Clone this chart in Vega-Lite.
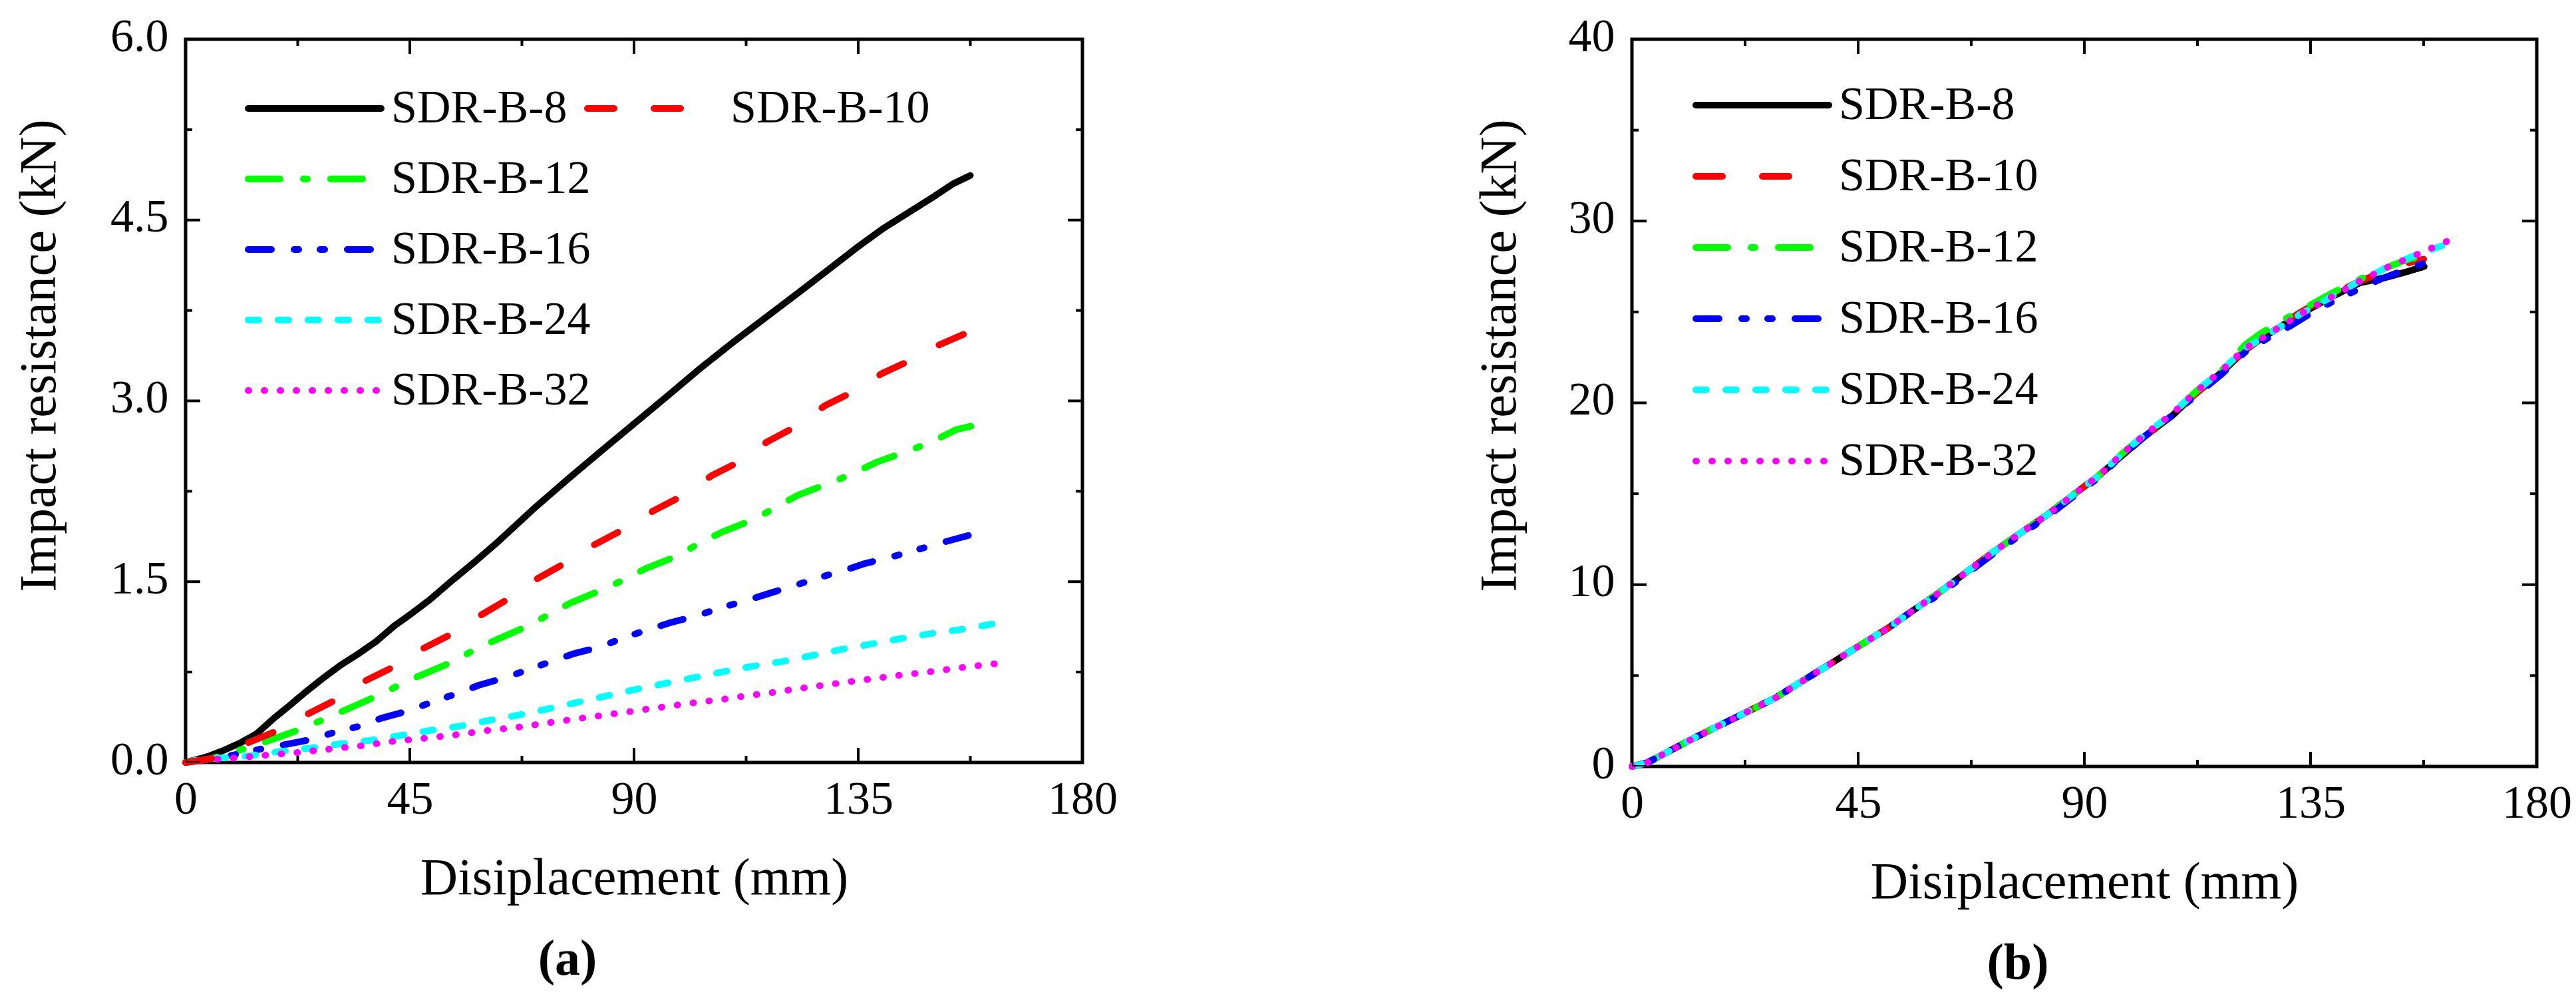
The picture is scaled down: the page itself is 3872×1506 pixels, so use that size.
{
  "$schema": "https://vega.github.io/schema/vega-lite/v6.json",
  "padding": {"left": 17, "top": 17, "right": 10, "bottom": 10},
  "background": "white",
  "config": {
    "font": "Liberation Serif, Times New Roman, serif",
    "view": {"stroke": "black", "strokeWidth": 5},
    "axis": {
      "grid": false, "domain": false, "labelFlush": false,
      "labelFont": "Liberation Serif, Times New Roman, serif", "labelFontSize": 70, "labelColor": "black",
      "titleFont": "Liberation Serif, Times New Roman, serif", "titleFontSize": 78, "titleFontWeight": "normal", "titleColor": "black"
    },
    "legend": {
      "orient": "none", "title": null, "padding": 0,
      "symbolType": "stroke", "symbolSize": 40000, "symbolStrokeWidth": 10, "clipHeight": 70,
      "labelFont": "Liberation Serif, Times New Roman, serif", "labelFontSize": 70, "labelColor": "black",
      "labelOffset": 10, "labelLimit": 1000, "rowPadding": 36
    },
    "tick": {"thickness": 4, "opacity": 1, "color": "black"},
    "title": {"font": "Liberation Serif, Times New Roman, serif", "fontSize": 76, "fontWeight": "bold", "color": "black", "orient": "bottom", "frame": "group", "anchor": "middle", "dx": -100, "offset": 46}
  },
  "datasets": {
    "xt": [
      {"val": 0, "major": true}, {"val": 22.5, "major": false}, {"val": 45, "major": true}, {"val": 67.5, "major": false}, {"val": 90, "major": true},
      {"val": 112.5, "major": false}, {"val": 135, "major": true}, {"val": 157.5, "major": false}, {"val": 180, "major": true}
    ],
    "yta": [
      {"val": 0, "major": true}, {"val": 0.75, "major": false}, {"val": 1.5, "major": true}, {"val": 2.25, "major": false}, {"val": 3, "major": true},
      {"val": 3.75, "major": false}, {"val": 4.5, "major": true}, {"val": 5.25, "major": false}, {"val": 6, "major": true}
    ],
    "ytb": [
      {"val": 0, "major": true}, {"val": 5, "major": false}, {"val": 10, "major": true}, {"val": 15, "major": false}, {"val": 20, "major": true},
      {"val": 25, "major": false}, {"val": 30, "major": true}, {"val": 35, "major": false}, {"val": 40, "major": true}
    ],
    "a": [
      {"series":"SDR-B-8","disp":0,"load":0},{"series":"SDR-B-8","disp":4.5,"load":0.05},{"series":"SDR-B-8","disp":7.6,"load":0.1},{"series":"SDR-B-8","disp":11.1,"load":0.165},{"series":"SDR-B-8","disp":14.3,"load":0.24},{"series":"SDR-B-8","disp":17.8,"load":0.37},{"series":"SDR-B-8","disp":20.5,"load":0.46},{"series":"SDR-B-8","disp":24.1,"load":0.585},{"series":"SDR-B-8","disp":27.6,"load":0.7},{"series":"SDR-B-8","disp":31.2,"load":0.81},{"series":"SDR-B-8","disp":34.8,"load":0.905},{"series":"SDR-B-8","disp":38.3,"load":1.006},{"series":"SDR-B-8","disp":41.9,"load":1.134},{"series":"SDR-B-8","disp":45,"load":1.225},{"series":"SDR-B-8","disp":49,"load":1.35},{"series":"SDR-B-8","disp":53.5,"load":1.51},{"series":"SDR-B-8","disp":57.9,"load":1.66},{"series":"SDR-B-8","disp":62.4,"load":1.82},{"series":"SDR-B-8","disp":70,"load":2.11},{"series":"SDR-B-8","disp":76.7,"load":2.35},{"series":"SDR-B-8","disp":83.3,"load":2.58},{"series":"SDR-B-8","disp":90,"load":2.81},{"series":"SDR-B-8","disp":96.7,"load":3.04},{"series":"SDR-B-8","disp":103.3,"load":3.27},{"series":"SDR-B-8","disp":110,"load":3.49},{"series":"SDR-B-8","disp":116.7,"load":3.7},{"series":"SDR-B-8","disp":123.4,"load":3.91},{"series":"SDR-B-8","disp":130,"load":4.12},{"series":"SDR-B-8","disp":135,"load":4.28},{"series":"SDR-B-8","disp":140,"load":4.43},{"series":"SDR-B-8","disp":145,"load":4.56},{"series":"SDR-B-8","disp":150,"load":4.69},{"series":"SDR-B-8","disp":154,"load":4.8},{"series":"SDR-B-8","disp":157.5,"load":4.87},
      {"series":"SDR-B-10","disp":0,"load":0},{"series":"SDR-B-10","disp":5,"load":0.03},{"series":"SDR-B-10","disp":9,"load":0.09},{"series":"SDR-B-10","disp":12,"load":0.155},{"series":"SDR-B-10","disp":18,"load":0.256},{"series":"SDR-B-10","disp":24.1,"load":0.393},{"series":"SDR-B-10","disp":29.6,"load":0.508},{"series":"SDR-B-10","disp":35.6,"load":0.668},{"series":"SDR-B-10","disp":41.4,"load":0.786},{"series":"SDR-B-10","disp":47.5,"load":0.942},{"series":"SDR-B-10","disp":53,"load":1.057},{"series":"SDR-B-10","disp":59,"load":1.216},{"series":"SDR-B-10","disp":64.5,"load":1.35},{"series":"SDR-B-10","disp":70.4,"load":1.52},{"series":"SDR-B-10","disp":76,"load":1.65},{"series":"SDR-B-10","disp":82.2,"load":1.81},{"series":"SDR-B-10","disp":87.7,"load":1.93},{"series":"SDR-B-10","disp":94,"load":2.09},{"series":"SDR-B-10","disp":99.6,"load":2.21},{"series":"SDR-B-10","disp":105.6,"load":2.38},{"series":"SDR-B-10","disp":110.9,"load":2.49},{"series":"SDR-B-10","disp":116.7,"load":2.66},{"series":"SDR-B-10","disp":122.2,"load":2.78},{"series":"SDR-B-10","disp":128.3,"load":2.96},{"series":"SDR-B-10","disp":133.7,"load":3.07},{"series":"SDR-B-10","disp":139.9,"load":3.23},{"series":"SDR-B-10","disp":145.7,"load":3.34},{"series":"SDR-B-10","disp":151,"load":3.46},{"series":"SDR-B-10","disp":157.7,"load":3.58},
      {"series":"SDR-B-12","disp":0,"load":0},{"series":"SDR-B-12","disp":5,"load":0.03},{"series":"SDR-B-12","disp":10.7,"load":0.1},{"series":"SDR-B-12","disp":15.6,"load":0.165},{"series":"SDR-B-12","disp":23,"load":0.274},{"series":"SDR-B-12","disp":27.2,"load":0.348},{"series":"SDR-B-12","disp":31.2,"load":0.42},{"series":"SDR-B-12","disp":38.3,"load":0.549},{"series":"SDR-B-12","disp":42.3,"load":0.63},{"series":"SDR-B-12","disp":46.6,"load":0.713},{"series":"SDR-B-12","disp":53.5,"load":0.832},{"series":"SDR-B-12","disp":57.5,"load":0.924},{"series":"SDR-B-12","disp":61.7,"load":1.006},{"series":"SDR-B-12","disp":68.6,"load":1.13},{"series":"SDR-B-12","disp":72.6,"load":1.22},{"series":"SDR-B-12","disp":77.1,"load":1.32},{"series":"SDR-B-12","disp":84,"load":1.44},{"series":"SDR-B-12","disp":88.2,"load":1.52},{"series":"SDR-B-12","disp":92.4,"load":1.61},{"series":"SDR-B-12","disp":99.1,"load":1.72},{"series":"SDR-B-12","disp":103.1,"load":1.82},{"series":"SDR-B-12","disp":107.6,"load":1.91},{"series":"SDR-B-12","disp":114.3,"load":2.02},{"series":"SDR-B-12","disp":118.6,"load":2.12},{"series":"SDR-B-12","disp":123,"load":2.22},{"series":"SDR-B-12","disp":130.1,"load":2.33},{"series":"SDR-B-12","disp":134.6,"load":2.41},{"series":"SDR-B-12","disp":138.6,"load":2.49},{"series":"SDR-B-12","disp":146.1,"load":2.6},{"series":"SDR-B-12","disp":150.2,"load":2.67},{"series":"SDR-B-12","disp":154.6,"load":2.76},{"series":"SDR-B-12","disp":157.7,"load":2.79},
      {"series":"SDR-B-16","disp":0,"load":0},{"series":"SDR-B-16","disp":4.9,"load":0.027},{"series":"SDR-B-16","disp":9.8,"load":0.064},{"series":"SDR-B-16","disp":14.9,"load":0.11},{"series":"SDR-B-16","disp":19.6,"load":0.146},{"series":"SDR-B-16","disp":25.4,"load":0.192},{"series":"SDR-B-16","disp":29.6,"load":0.247},{"series":"SDR-B-16","disp":34.8,"load":0.3},{"series":"SDR-B-16","disp":39.2,"load":0.366},{"series":"SDR-B-16","disp":44.8,"load":0.43},{"series":"SDR-B-16","disp":49,"load":0.494},{"series":"SDR-B-16","disp":54.1,"load":0.567},{"series":"SDR-B-16","disp":58.8,"load":0.64},{"series":"SDR-B-16","disp":64.2,"load":0.704},{"series":"SDR-B-16","disp":68.8,"load":0.77},{"series":"SDR-B-16","disp":73.5,"load":0.84},{"series":"SDR-B-16","disp":77.7,"load":0.9},{"series":"SDR-B-16","disp":83.3,"load":0.96},{"series":"SDR-B-16","disp":87.6,"load":1.03},{"series":"SDR-B-16","disp":92.7,"load":1.1},{"series":"SDR-B-16","disp":97.3,"load":1.16},{"series":"SDR-B-16","disp":102.9,"load":1.22},{"series":"SDR-B-16","disp":107.1,"load":1.28},{"series":"SDR-B-16","disp":112.3,"load":1.34},{"series":"SDR-B-16","disp":116.9,"load":1.4},{"series":"SDR-B-16","disp":122.4,"load":1.47},{"series":"SDR-B-16","disp":126.8,"load":1.53},{"series":"SDR-B-16","disp":131.9,"load":1.59},{"series":"SDR-B-16","disp":136.3,"load":1.65},{"series":"SDR-B-16","disp":142.1,"load":1.71},{"series":"SDR-B-16","disp":146.4,"load":1.76},{"series":"SDR-B-16","disp":151.5,"load":1.82},{"series":"SDR-B-16","disp":155.9,"load":1.87},{"series":"SDR-B-16","disp":160.6,"load":1.92},
      {"series":"SDR-B-24","disp":0,"load":0},{"series":"SDR-B-24","disp":1.8,"load":0.018},{"series":"SDR-B-24","disp":7.1,"load":0.037},{"series":"SDR-B-24","disp":12.9,"load":0.055},{"series":"SDR-B-24","disp":18.9,"load":0.091},{"series":"SDR-B-24","disp":25,"load":0.119},{"series":"SDR-B-24","disp":31,"load":0.155},{"series":"SDR-B-24","disp":37,"load":0.183},{"series":"SDR-B-24","disp":43,"load":0.223},{"series":"SDR-B-24","disp":49,"load":0.265},{"series":"SDR-B-24","disp":54.8,"load":0.3},{"series":"SDR-B-24","disp":60.8,"load":0.348},{"series":"SDR-B-24","disp":66.8,"load":0.393},{"series":"SDR-B-24","disp":72.8,"load":0.445},{"series":"SDR-B-24","disp":78.8,"load":0.5},{"series":"SDR-B-24","disp":84.8,"load":0.555},{"series":"SDR-B-24","disp":90.8,"load":0.61},{"series":"SDR-B-24","disp":96.8,"load":0.66},{"series":"SDR-B-24","disp":102.8,"load":0.71},{"series":"SDR-B-24","disp":108.8,"load":0.76},{"series":"SDR-B-24","disp":114,"load":0.8},{"series":"SDR-B-24","disp":120.1,"load":0.84},{"series":"SDR-B-24","disp":126.1,"load":0.89},{"series":"SDR-B-24","disp":131.9,"load":0.94},{"series":"SDR-B-24","disp":137.9,"load":0.985},{"series":"SDR-B-24","disp":143.9,"load":1.03},{"series":"SDR-B-24","disp":149.7,"load":1.07},{"series":"SDR-B-24","disp":156.8,"load":1.11},{"series":"SDR-B-24","disp":163.3,"load":1.16},
      {"series":"SDR-B-32","disp":0,"load":0},{"series":"SDR-B-32","disp":3.1,"load":0.018},{"series":"SDR-B-32","disp":9.6,"load":0.037},{"series":"SDR-B-32","disp":15.8,"load":0.059},{"series":"SDR-B-32","disp":22.3,"load":0.082},{"series":"SDR-B-32","disp":28.7,"load":0.11},{"series":"SDR-B-32","disp":35,"load":0.137},{"series":"SDR-B-32","disp":41.4,"load":0.174},{"series":"SDR-B-32","disp":47.9,"load":0.2},{"series":"SDR-B-32","disp":54.1,"load":0.229},{"series":"SDR-B-32","disp":60.6,"load":0.265},{"series":"SDR-B-32","disp":66.8,"load":0.293},{"series":"SDR-B-32","disp":73,"load":0.33},{"series":"SDR-B-32","disp":80,"load":0.37},{"series":"SDR-B-32","disp":87,"load":0.41},{"series":"SDR-B-32","disp":94,"load":0.45},{"series":"SDR-B-32","disp":101,"load":0.49},{"series":"SDR-B-32","disp":108,"load":0.525},{"series":"SDR-B-32","disp":112,"load":0.55},{"series":"SDR-B-32","disp":117.8,"load":0.58},{"series":"SDR-B-32","disp":124.3,"load":0.62},{"series":"SDR-B-32","disp":130.8,"load":0.656},{"series":"SDR-B-32","disp":137,"load":0.69},{"series":"SDR-B-32","disp":143.5,"load":0.725},{"series":"SDR-B-32","disp":149.9,"load":0.755},{"series":"SDR-B-32","disp":156.2,"load":0.79},{"series":"SDR-B-32","disp":162.6,"load":0.82}
    ],
    "b": [
      {"series":"SDR-B-8","disp":0,"load":0},{"series":"SDR-B-8","disp":3,"load":0.2},{"series":"SDR-B-8","disp":11.2,"load":1.4},{"series":"SDR-B-8","disp":17,"load":2.2},{"series":"SDR-B-8","disp":22.9,"load":3},{"series":"SDR-B-8","disp":28.7,"load":3.8},{"series":"SDR-B-8","disp":34.5,"load":4.8},{"series":"SDR-B-8","disp":39.8,"load":5.7},{"series":"SDR-B-8","disp":45,"load":6.6},{"series":"SDR-B-8","disp":50.9,"load":7.6},{"series":"SDR-B-8","disp":55.5,"load":8.5},{"series":"SDR-B-8","disp":60.8,"load":9.5},{"series":"SDR-B-8","disp":66.6,"load":10.7},{"series":"SDR-B-8","disp":71.9,"load":11.8},{"series":"SDR-B-8","disp":77.1,"load":12.8},{"series":"SDR-B-8","disp":82.4,"load":13.8},{"series":"SDR-B-8","disp":87.6,"load":14.9},{"series":"SDR-B-8","disp":92.9,"load":16},{"series":"SDR-B-8","disp":97.5,"load":17.1},{"series":"SDR-B-8","disp":102.2,"load":18.2},{"series":"SDR-B-8","disp":107.5,"load":19.3},{"series":"SDR-B-8","disp":112.1,"load":20.5},{"series":"SDR-B-8","disp":117.4,"load":21.7},{"series":"SDR-B-8","disp":122,"load":22.9},{"series":"SDR-B-8","disp":125,"load":23.5},{"series":"SDR-B-8","disp":127.9,"load":24},{"series":"SDR-B-8","disp":133.1,"load":24.9},{"series":"SDR-B-8","disp":139,"load":25.8},{"series":"SDR-B-8","disp":144.8,"load":26.6},{"series":"SDR-B-8","disp":150,"load":26.9},{"series":"SDR-B-8","disp":154,"load":27.2},{"series":"SDR-B-8","disp":157.6,"load":27.5},
      {"series":"SDR-B-10","disp":0,"load":0},{"series":"SDR-B-10","disp":3,"load":0.2},{"series":"SDR-B-10","disp":11.2,"load":1.4},{"series":"SDR-B-10","disp":17,"load":2.2},{"series":"SDR-B-10","disp":22.9,"load":3},{"series":"SDR-B-10","disp":28.7,"load":3.8},{"series":"SDR-B-10","disp":34.5,"load":4.8},{"series":"SDR-B-10","disp":39.8,"load":5.7},{"series":"SDR-B-10","disp":45,"load":6.6},{"series":"SDR-B-10","disp":50.9,"load":7.6},{"series":"SDR-B-10","disp":55.5,"load":8.5},{"series":"SDR-B-10","disp":60.8,"load":9.5},{"series":"SDR-B-10","disp":66.6,"load":10.7},{"series":"SDR-B-10","disp":71.9,"load":11.8},{"series":"SDR-B-10","disp":77.1,"load":12.8},{"series":"SDR-B-10","disp":82.4,"load":13.8},{"series":"SDR-B-10","disp":87.6,"load":14.9},{"series":"SDR-B-10","disp":92.9,"load":16},{"series":"SDR-B-10","disp":97.5,"load":17.1},{"series":"SDR-B-10","disp":102.2,"load":18.2},{"series":"SDR-B-10","disp":107.5,"load":19.3},{"series":"SDR-B-10","disp":112.1,"load":20.5},{"series":"SDR-B-10","disp":117.4,"load":21.7},{"series":"SDR-B-10","disp":122,"load":22.9},{"series":"SDR-B-10","disp":125,"load":23.5},{"series":"SDR-B-10","disp":127.9,"load":24.1},{"series":"SDR-B-10","disp":133.1,"load":25},{"series":"SDR-B-10","disp":139,"load":25.9},{"series":"SDR-B-10","disp":144.8,"load":26.7},{"series":"SDR-B-10","disp":150.6,"load":27.3},{"series":"SDR-B-10","disp":154.5,"load":27.7},{"series":"SDR-B-10","disp":157.5,"load":27.9},
      {"series":"SDR-B-12","disp":0,"load":0},{"series":"SDR-B-12","disp":3,"load":0.2},{"series":"SDR-B-12","disp":11.2,"load":1.4},{"series":"SDR-B-12","disp":17,"load":2.2},{"series":"SDR-B-12","disp":22.9,"load":3},{"series":"SDR-B-12","disp":28.7,"load":3.8},{"series":"SDR-B-12","disp":34.5,"load":4.8},{"series":"SDR-B-12","disp":39.8,"load":5.7},{"series":"SDR-B-12","disp":45,"load":6.6},{"series":"SDR-B-12","disp":50.9,"load":7.6},{"series":"SDR-B-12","disp":55.5,"load":8.5},{"series":"SDR-B-12","disp":60.8,"load":9.5},{"series":"SDR-B-12","disp":66.6,"load":10.7},{"series":"SDR-B-12","disp":71.9,"load":11.8},{"series":"SDR-B-12","disp":77.1,"load":12.8},{"series":"SDR-B-12","disp":82.4,"load":13.8},{"series":"SDR-B-12","disp":87.6,"load":14.9},{"series":"SDR-B-12","disp":92.9,"load":16},{"series":"SDR-B-12","disp":97.5,"load":17.2},{"series":"SDR-B-12","disp":102.2,"load":18.3},{"series":"SDR-B-12","disp":107.5,"load":19.4},{"series":"SDR-B-12","disp":112.1,"load":20.6},{"series":"SDR-B-12","disp":117.4,"load":21.8},{"series":"SDR-B-12","disp":122,"load":23.2},{"series":"SDR-B-12","disp":125,"load":23.8},{"series":"SDR-B-12","disp":127.9,"load":24.3},{"series":"SDR-B-12","disp":133.1,"load":25.1},{"series":"SDR-B-12","disp":139,"load":26},{"series":"SDR-B-12","disp":144.8,"load":26.8},{"series":"SDR-B-12","disp":150.6,"load":27.5},{"series":"SDR-B-12","disp":154.5,"load":27.9},{"series":"SDR-B-12","disp":157.8,"load":28.1},
      {"series":"SDR-B-16","disp":0,"load":0},{"series":"SDR-B-16","disp":3,"load":0.2},{"series":"SDR-B-16","disp":11.2,"load":1.4},{"series":"SDR-B-16","disp":17,"load":2.2},{"series":"SDR-B-16","disp":22.9,"load":3},{"series":"SDR-B-16","disp":28.7,"load":3.8},{"series":"SDR-B-16","disp":34.5,"load":4.8},{"series":"SDR-B-16","disp":39.8,"load":5.7},{"series":"SDR-B-16","disp":45,"load":6.6},{"series":"SDR-B-16","disp":50.9,"load":7.6},{"series":"SDR-B-16","disp":55.5,"load":8.5},{"series":"SDR-B-16","disp":60.8,"load":9.4},{"series":"SDR-B-16","disp":66.6,"load":10.6},{"series":"SDR-B-16","disp":71.9,"load":11.7},{"series":"SDR-B-16","disp":77.1,"load":12.7},{"series":"SDR-B-16","disp":82.4,"load":13.7},{"series":"SDR-B-16","disp":87.6,"load":14.8},{"series":"SDR-B-16","disp":92.9,"load":15.9},{"series":"SDR-B-16","disp":97.5,"load":17.1},{"series":"SDR-B-16","disp":102.2,"load":18.2},{"series":"SDR-B-16","disp":107.5,"load":19.3},{"series":"SDR-B-16","disp":112.1,"load":20.4},{"series":"SDR-B-16","disp":117.4,"load":21.6},{"series":"SDR-B-16","disp":122,"load":22.8},{"series":"SDR-B-16","disp":125,"load":23.3},{"series":"SDR-B-16","disp":127.9,"load":23.8},{"series":"SDR-B-16","disp":130.8,"load":24.2},{"series":"SDR-B-16","disp":135.5,"load":25},{"series":"SDR-B-16","disp":139.6,"load":25.6},{"series":"SDR-B-16","disp":144.2,"load":26.2},{"series":"SDR-B-16","disp":148.9,"load":26.8},{"series":"SDR-B-16","disp":153.6,"load":27.3},{"series":"SDR-B-16","disp":158.8,"load":27.8},
      {"series":"SDR-B-24","disp":0,"load":0},{"series":"SDR-B-24","disp":3,"load":0.2},{"series":"SDR-B-24","disp":11.2,"load":1.4},{"series":"SDR-B-24","disp":17,"load":2.2},{"series":"SDR-B-24","disp":22.9,"load":3},{"series":"SDR-B-24","disp":28.7,"load":3.8},{"series":"SDR-B-24","disp":34.5,"load":4.8},{"series":"SDR-B-24","disp":39.8,"load":5.7},{"series":"SDR-B-24","disp":45,"load":6.6},{"series":"SDR-B-24","disp":50.9,"load":7.6},{"series":"SDR-B-24","disp":55.5,"load":8.5},{"series":"SDR-B-24","disp":60.8,"load":9.5},{"series":"SDR-B-24","disp":66.6,"load":10.7},{"series":"SDR-B-24","disp":71.9,"load":11.8},{"series":"SDR-B-24","disp":77.1,"load":12.8},{"series":"SDR-B-24","disp":82.4,"load":13.8},{"series":"SDR-B-24","disp":87.6,"load":14.9},{"series":"SDR-B-24","disp":92.9,"load":16},{"series":"SDR-B-24","disp":97.5,"load":17.2},{"series":"SDR-B-24","disp":102.2,"load":18.3},{"series":"SDR-B-24","disp":107.5,"load":19.4},{"series":"SDR-B-24","disp":112.1,"load":20.6},{"series":"SDR-B-24","disp":117.4,"load":21.8},{"series":"SDR-B-24","disp":122,"load":23},{"series":"SDR-B-24","disp":125,"load":23.5},{"series":"SDR-B-24","disp":127.9,"load":24},{"series":"SDR-B-24","disp":133.1,"load":24.9},{"series":"SDR-B-24","disp":139,"load":25.8},{"series":"SDR-B-24","disp":144.8,"load":26.7},{"series":"SDR-B-24","disp":150.6,"load":27.5},{"series":"SDR-B-24","disp":156.5,"load":28.2},{"series":"SDR-B-24","disp":162.9,"load":28.8},
      {"series":"SDR-B-32","disp":0,"load":0},{"series":"SDR-B-32","disp":3,"load":0.2},{"series":"SDR-B-32","disp":11.2,"load":1.4},{"series":"SDR-B-32","disp":17,"load":2.2},{"series":"SDR-B-32","disp":22.9,"load":3},{"series":"SDR-B-32","disp":28.7,"load":3.8},{"series":"SDR-B-32","disp":34.5,"load":4.8},{"series":"SDR-B-32","disp":39.8,"load":5.7},{"series":"SDR-B-32","disp":45,"load":6.6},{"series":"SDR-B-32","disp":50.9,"load":7.6},{"series":"SDR-B-32","disp":55.5,"load":8.5},{"series":"SDR-B-32","disp":60.8,"load":9.5},{"series":"SDR-B-32","disp":66.6,"load":10.7},{"series":"SDR-B-32","disp":71.9,"load":11.8},{"series":"SDR-B-32","disp":77.1,"load":12.8},{"series":"SDR-B-32","disp":82.4,"load":13.8},{"series":"SDR-B-32","disp":87.6,"load":14.9},{"series":"SDR-B-32","disp":92.9,"load":16},{"series":"SDR-B-32","disp":97.5,"load":17.2},{"series":"SDR-B-32","disp":102.2,"load":18.3},{"series":"SDR-B-32","disp":107.5,"load":19.4},{"series":"SDR-B-32","disp":112.1,"load":20.6},{"series":"SDR-B-32","disp":117.4,"load":21.8},{"series":"SDR-B-32","disp":122,"load":23},{"series":"SDR-B-32","disp":125,"load":23.5},{"series":"SDR-B-32","disp":127.9,"load":24},{"series":"SDR-B-32","disp":133.1,"load":24.9},{"series":"SDR-B-32","disp":139,"load":25.8},{"series":"SDR-B-32","disp":144.8,"load":26.7},{"series":"SDR-B-32","disp":150.6,"load":27.5},{"series":"SDR-B-32","disp":156.5,"load":28.2},{"series":"SDR-B-32","disp":162.3,"load":28.9}
    ]
  },
  "hconcat": [
    {
      "width": 1348,
      "height": 1087,
      "title": {"text": "(a)"},
      "layer": [
        {
          "data": {"name": "a"},
          "transform": [{"filter": "datum.series != 'SDR-B-10'"}],
          "mark": {"type": "line", "strokeWidth": 10, "strokeCap": "round", "strokeJoin": "round"},
          "encoding": {
            "x": {"field": "disp", "type": "quantitative", "scale": {"domain": [0, 180], "nice": false},
              "axis": {"values": [0, 45, 90, 135, 180], "ticks": false, "labelPadding": 76, "labelBaseline": "alphabetic",
                "title": "Disiplacement (mm)", "titleY": 197, "titleBaseline": "alphabetic"}},
            "y": {"field": "load", "type": "quantitative", "scale": {"domain": [0, 6], "nice": false},
              "axis": {"values": [0, 1.5, 3, 4.5, 6], "format": ".1f", "ticks": false, "labelPadding": 26, "labelOffset": -4,
                "title": "Impact resistance (kN)", "titleX": -197, "titleY": 475, "titleBaseline": "alphabetic", "titleAngle": 270}},
            "color": {"field": "series", "type": "nominal",
              "scale": {"domain": ["SDR-B-8", "SDR-B-12", "SDR-B-16", "SDR-B-24", "SDR-B-32"], "range": ["#000000", "#00ff00", "#0000ff", "#00ffff", "#ff00ff"]},
              "legend": {"legendX": 89, "legendY": 69, "encode": {"symbols": {"update": {"strokeCap": {"value": "round"}}}}}},
            "strokeDash": {"field": "series", "type": "nominal",
              "scale": {"domain": ["SDR-B-8", "SDR-B-12", "SDR-B-16", "SDR-B-24", "SDR-B-32"], "range": [[1, 0], [48, 35, 6, 35], [35, 34, 7, 32, 7, 34], [16, 29], [1, 23]]},
              "legend": {"legendX": 89, "legendY": 69, "encode": {"symbols": {"update": {"strokeCap": {"value": "round"}}}}}}
          }
        },
        {
          "data": {"name": "a"},
          "transform": [{"filter": "datum.series == 'SDR-B-10'"}],
          "mark": {"type": "line", "strokeWidth": 10, "strokeCap": "round", "strokeJoin": "round"},
          "encoding": {
            "x": {"field": "disp", "type": "quantitative"},
            "y": {"field": "load", "type": "quantitative"},
            "color": {"field": "series", "type": "nominal", "scale": {"domain": ["SDR-B-10"], "range": ["#ff0000"]},
              "legend": {"legendX": 599, "legendY": 69, "encode": {"symbols": {"update": {"strokeCap": {"value": "round"}}}}}},
            "strokeDash": {"field": "series", "type": "nominal", "scale": {"domain": ["SDR-B-10"], "range": [[40, 60]]},
              "legend": {"legendX": 599, "legendY": 69, "encode": {"symbols": {"update": {"strokeCap": {"value": "round"}}}}}}
          }
        },
        {
          "data": {"name": "xt"},
          "mark": {"type": "tick", "orient": "vertical", "clip": true},
          "encoding": {
            "x": {"field": "val", "type": "quantitative"},
            "y": {"datum": 0, "type": "quantitative"},
            "size": {"condition": {"test": "datum.major", "value": 44}, "value": 20}
          }
        },
        {
          "data": {"name": "xt"},
          "mark": {"type": "tick", "orient": "vertical", "clip": true},
          "encoding": {
            "x": {"field": "val", "type": "quantitative"},
            "y": {"datum": 6, "type": "quantitative"},
            "size": {"condition": {"test": "datum.major", "value": 44}, "value": 20}
          }
        },
        {
          "data": {"name": "yta"},
          "mark": {"type": "tick", "orient": "horizontal", "clip": true},
          "encoding": {
            "y": {"field": "val", "type": "quantitative"},
            "x": {"datum": 0, "type": "quantitative"},
            "size": {"condition": {"test": "datum.major", "value": 44}, "value": 20}
          }
        },
        {
          "data": {"name": "yta"},
          "mark": {"type": "tick", "orient": "horizontal", "clip": true},
          "encoding": {
            "y": {"field": "val", "type": "quantitative"},
            "x": {"datum": 180, "type": "quantitative"},
            "size": {"condition": {"test": "datum.major", "value": 44}, "value": 20}
          }
        }
      ],
      "resolve": {
        "scale": {"color": "independent", "strokeDash": "independent"},
        "legend": {"color": "independent", "strokeDash": "independent"}
      }
    },
    {
      "width": 1360,
      "height": 1093,
      "title": {"text": "(b)"},
      "layer": [
        {
          "data": {"name": "b"},
          "mark": {"type": "line", "strokeWidth": 10, "strokeCap": "round", "strokeJoin": "round"},
          "encoding": {
            "x": {"field": "disp", "type": "quantitative", "scale": {"domain": [0, 180], "nice": false},
              "axis": {"values": [0, 45, 90, 135, 180], "ticks": false, "labelPadding": 76, "labelBaseline": "alphabetic",
                "title": "Disiplacement (mm)", "titleY": 197, "titleBaseline": "alphabetic"}},
            "y": {"field": "load", "type": "quantitative", "scale": {"domain": [0, 40], "nice": false},
              "axis": {"values": [0, 10, 20, 30, 40], "format": "d", "ticks": false, "labelPadding": 26, "labelOffset": -4,
                "title": "Impact resistance (kN)", "titleX": -176, "titleY": 475, "titleBaseline": "alphabetic", "titleAngle": 270}},
            "color": {"field": "series", "type": "nominal",
              "scale": {"domain": ["SDR-B-8", "SDR-B-10", "SDR-B-12", "SDR-B-16", "SDR-B-24", "SDR-B-32"], "range": ["#000000", "#ff0000", "#00ff00", "#0000ff", "#00ffff", "#ff00ff"]},
              "legend": {"legendX": 91, "legendY": 64, "rowPadding": 37, "encode": {"symbols": {"update": {"strokeCap": {"value": "round"}}}}}},
            "strokeDash": {"field": "series", "type": "nominal",
              "scale": {"domain": ["SDR-B-8", "SDR-B-10", "SDR-B-12", "SDR-B-16", "SDR-B-24", "SDR-B-32"], "range": [[1, 0], [40, 60], [48, 35, 6, 35], [35, 34, 7, 32, 7, 34], [16, 29], [1, 23]]},
              "legend": {"legendX": 91, "legendY": 64, "rowPadding": 37, "encode": {"symbols": {"update": {"strokeCap": {"value": "round"}}}}}}
          }
        },
        {
          "data": {"name": "xt"},
          "mark": {"type": "tick", "orient": "vertical", "clip": true},
          "encoding": {
            "x": {"field": "val", "type": "quantitative"},
            "y": {"datum": 0, "type": "quantitative"},
            "size": {"condition": {"test": "datum.major", "value": 44}, "value": 20}
          }
        },
        {
          "data": {"name": "xt"},
          "mark": {"type": "tick", "orient": "vertical", "clip": true},
          "encoding": {
            "x": {"field": "val", "type": "quantitative"},
            "y": {"datum": 40, "type": "quantitative"},
            "size": {"condition": {"test": "datum.major", "value": 44}, "value": 20}
          }
        },
        {
          "data": {"name": "ytb"},
          "mark": {"type": "tick", "orient": "horizontal", "clip": true},
          "encoding": {
            "y": {"field": "val", "type": "quantitative"},
            "x": {"datum": 0, "type": "quantitative"},
            "size": {"condition": {"test": "datum.major", "value": 44}, "value": 20}
          }
        },
        {
          "data": {"name": "ytb"},
          "mark": {"type": "tick", "orient": "horizontal", "clip": true},
          "encoding": {
            "y": {"field": "val", "type": "quantitative"},
            "x": {"datum": 180, "type": "quantitative"},
            "size": {"condition": {"test": "datum.major", "value": 44}, "value": 20}
          }
        }
      ]
    }
  ],
  "spacing": 530,
  "resolve": {
    "scale": {"color": "independent", "strokeDash": "independent"},
    "legend": {"color": "independent", "strokeDash": "independent"}
  }
}
